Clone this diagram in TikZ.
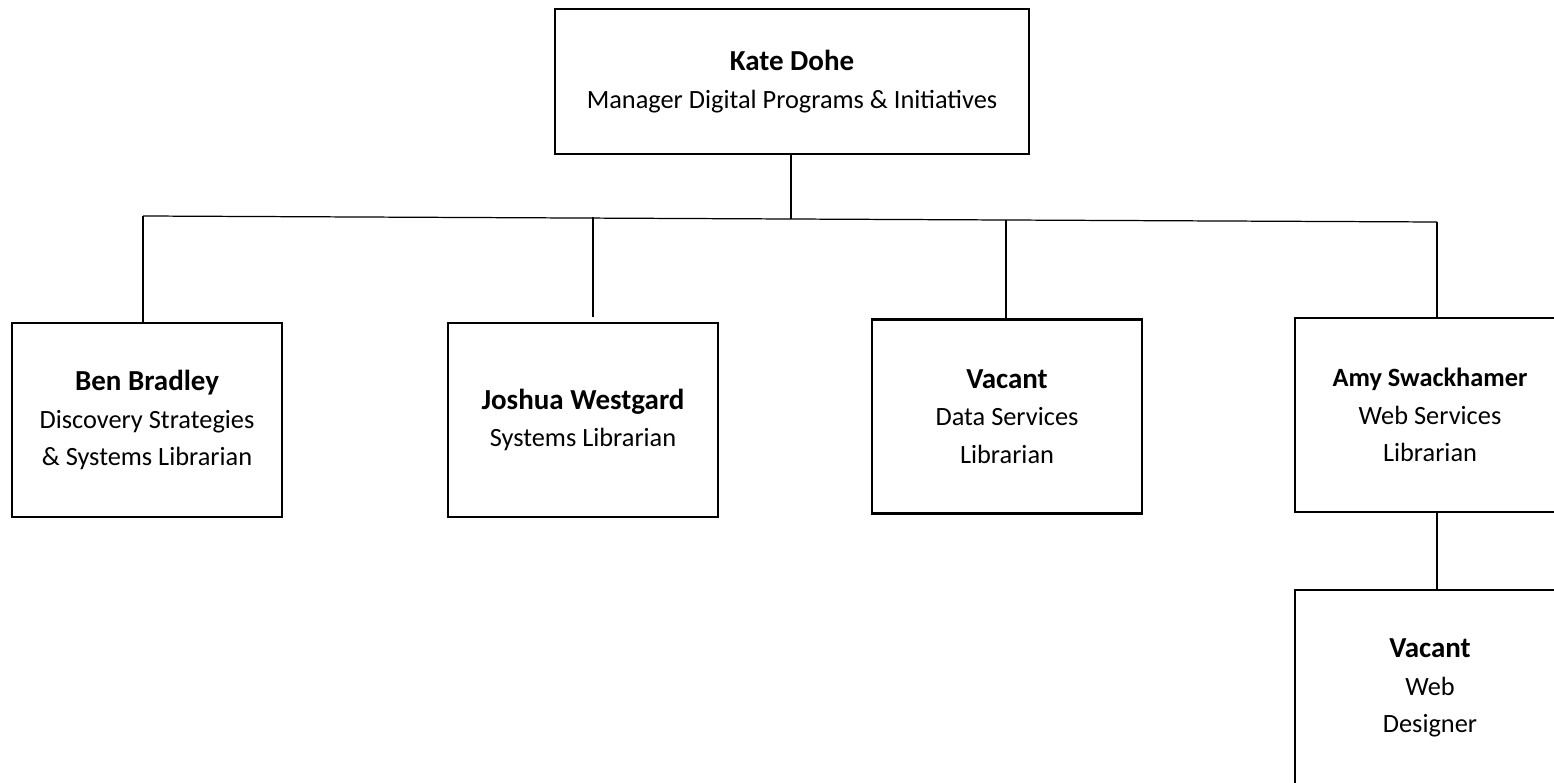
\documentclass[tikz,border=0pt]{standalone}
\usepackage{fontspec}
\setmainfont{Carlito}
\newcommand{\pname}[1]{{\fontsize{16.5}{21}\selectfont\bfseries #1}}
\tikzset{
    post/.style={draw, line width=1.5pt, align=center, minimum width=5.4cm, minimum height=3.88cm, inner sep=0pt, font=\fontsize{15}{21.5}\selectfont},
    link/.style={line width=0.7pt}
}
\begin{document}
\begin{tikzpicture}[x=0.02cm, y=-0.02cm]
    \clip (0,0) rectangle (1554,783);
    \node[post, minimum width=9.48cm, minimum height=2.9cm] at (792,81.5)(kate){\pname{Kate Dohe}\\Manager Digital Programs \& Initiatives};
    \node[post] at (147,420)(ben){\pname{Ben Bradley}\\Discovery Strategies\\\& Systems Librarian};
    \node[post] at (583,420)(josh){\pname{Joshua Westgard}\\Systems Librarian};
    \node[post] at (1007,416.5)(datavac){\pname{Vacant}\\Data Services\\Librarian};
    \node[post] at (1430,415)(amy){{\bfseries Amy Swackhamer}\\Web Services\\Librarian};
    \node[post, minimum height=3.92cm] at (1430,688)(webvac){\pname{Vacant}\\Web\\Designer};

    \coordinate (busL) at (143,216);
    \coordinate (busK) at (791,219);
    \coordinate (busJ) at (593,217.5);
    \coordinate (busD) at (1006,220.5);
    \coordinate (busR) at (1437,222);

    \draw[link](kate.south -| busK) -- (busK);
    \draw[link](busL) -- (busR);
    \draw[link](busL) -- (busL |- ben.north);
    \draw[link, shorten >=0.1cm](busJ) -- (busJ |- josh.north);
    \draw[link](busD) -- (busD |- datavac.north);
    \draw[link](busR) -- (busR |- amy.north);
    \draw[link](amy.south -| busR) -- (webvac.north -| busR);
\end{tikzpicture}
\end{document}
